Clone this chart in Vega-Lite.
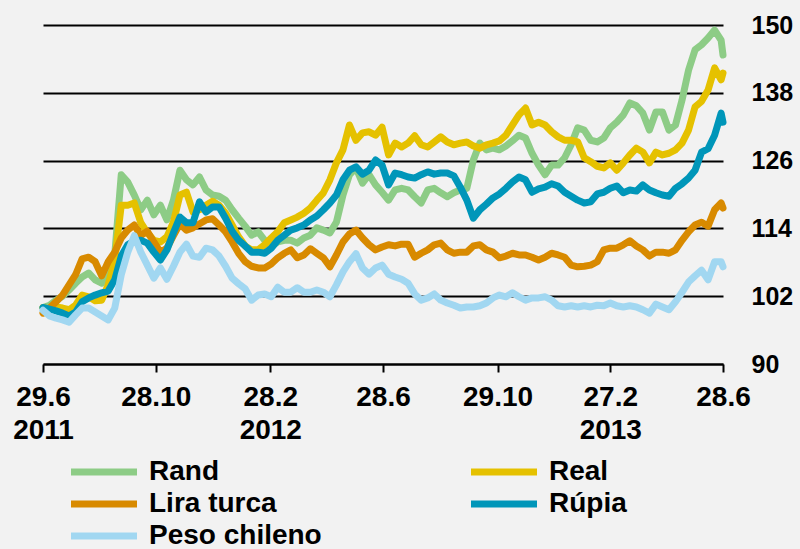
{
  "$schema": "https://vega.github.io/schema/vega-lite/v6.json",
  "autosize": {"type": "none"},
  "width": 680,
  "height": 339,
  "padding": {"left": 43, "top": 25, "right": 77, "bottom": 185},
  "background": "#f2f2f2",
  "config": {"view": {"stroke": null}, "legend": {"padding": 0}},
  "data": {"values": [
    {"d":"2011-06-29","Rand":100.0,"Real":100.0,"Lira turca":99.0,"Rúpia":100.0,"Peso chileno":99.5},
    {"d":"2011-07-06","Rand":100.4,"Real":99.7,"Lira turca":99.9,"Rúpia":99.7,"Peso chileno":98.5},
    {"d":"2011-07-13","Rand":101.3,"Real":100.1,"Lira turca":101.0,"Rúpia":99.4,"Peso chileno":98.1},
    {"d":"2011-07-20","Rand":102.0,"Real":99.9,"Lira turca":102.2,"Rúpia":99.0,"Peso chileno":97.8},
    {"d":"2011-07-27","Rand":103.1,"Real":99.6,"Lira turca":104.0,"Rúpia":98.5,"Peso chileno":97.4},
    {"d":"2011-08-03","Rand":104.3,"Real":100.4,"Lira turca":105.8,"Rúpia":99.2,"Peso chileno":98.7},
    {"d":"2011-08-10","Rand":105.4,"Real":102.2,"Lira turca":108.6,"Rúpia":101.0,"Peso chileno":99.9},
    {"d":"2011-08-17","Rand":106.1,"Real":101.9,"Lira turca":108.9,"Rúpia":101.7,"Peso chileno":99.9},
    {"d":"2011-08-24","Rand":104.9,"Real":101.2,"Lira turca":108.1,"Rúpia":102.2,"Peso chileno":99.2},
    {"d":"2011-08-31","Rand":104.3,"Real":101.3,"Lira turca":105.6,"Rúpia":102.6,"Peso chileno":98.5},
    {"d":"2011-09-07","Rand":106.3,"Real":104.0,"Lira turca":108.1,"Rúpia":102.9,"Peso chileno":97.8},
    {"d":"2011-09-14","Rand":109.3,"Real":108.4,"Lira turca":109.8,"Rúpia":104.9,"Peso chileno":99.9},
    {"d":"2011-09-21","Rand":123.5,"Real":118.1,"Lira turca":112.3,"Rúpia":109.1,"Peso chileno":105.8},
    {"d":"2011-09-28","Rand":122.2,"Real":118.1,"Lira turca":113.7,"Rúpia":111.1,"Peso chileno":109.8},
    {"d":"2011-10-05","Rand":119.9,"Real":118.5,"Lira turca":114.6,"Rúpia":111.8,"Peso chileno":112.7},
    {"d":"2011-10-12","Rand":117.3,"Real":115.0,"Lira turca":112.7,"Rúpia":111.9,"Peso chileno":109.8},
    {"d":"2011-10-19","Rand":119.0,"Real":113.2,"Lira turca":113.5,"Rúpia":111.4,"Peso chileno":107.5},
    {"d":"2011-10-26","Rand":116.4,"Real":111.9,"Lira turca":111.6,"Rúpia":109.8,"Peso chileno":105.2},
    {"d":"2011-11-02","Rand":118.1,"Real":111.6,"Lira turca":109.8,"Rúpia":108.4,"Peso chileno":107.0},
    {"d":"2011-11-09","Rand":115.5,"Real":112.5,"Lira turca":110.5,"Rúpia":110.2,"Peso chileno":105.0},
    {"d":"2011-11-16","Rand":119.0,"Real":115.1,"Lira turca":112.7,"Rúpia":113.2,"Peso chileno":107.3},
    {"d":"2011-11-23","Rand":124.3,"Real":119.9,"Lira turca":114.8,"Rúpia":116.0,"Peso chileno":109.8},
    {"d":"2011-11-30","Rand":122.6,"Real":120.4,"Lira turca":113.7,"Rúpia":115.0,"Peso chileno":111.2},
    {"d":"2011-12-07","Rand":121.7,"Real":116.9,"Lira turca":114.1,"Rúpia":115.0,"Peso chileno":109.1},
    {"d":"2011-12-14","Rand":123.1,"Real":117.3,"Lira turca":114.8,"Rúpia":118.7,"Peso chileno":108.9},
    {"d":"2011-12-21","Rand":120.8,"Real":118.1,"Lira turca":115.5,"Rúpia":116.9,"Peso chileno":110.5},
    {"d":"2011-12-28","Rand":119.9,"Real":118.8,"Lira turca":115.7,"Rúpia":117.8,"Peso chileno":110.2},
    {"d":"2012-01-04","Rand":119.7,"Real":118.1,"Lira turca":114.6,"Rúpia":117.8,"Peso chileno":109.1},
    {"d":"2012-01-11","Rand":119.0,"Real":116.7,"Lira turca":113.4,"Rúpia":115.8,"Peso chileno":107.3},
    {"d":"2012-01-18","Rand":117.3,"Real":114.6,"Lira turca":111.6,"Rúpia":113.5,"Peso chileno":105.2},
    {"d":"2012-01-25","Rand":115.8,"Real":112.5,"Lira turca":109.6,"Rúpia":111.9,"Peso chileno":104.2},
    {"d":"2012-02-01","Rand":114.4,"Real":110.9,"Lira turca":108.1,"Rúpia":110.9,"Peso chileno":103.3},
    {"d":"2012-02-08","Rand":112.8,"Real":110.2,"Lira turca":107.3,"Rúpia":109.8,"Peso chileno":101.3},
    {"d":"2012-02-15","Rand":113.4,"Real":110.2,"Lira turca":107.0,"Rúpia":109.8,"Peso chileno":102.2},
    {"d":"2012-02-22","Rand":111.9,"Real":111.1,"Lira turca":107.0,"Rúpia":109.6,"Peso chileno":102.4},
    {"d":"2012-02-29","Rand":110.9,"Real":112.3,"Lira turca":107.7,"Rúpia":110.5,"Peso chileno":101.9},
    {"d":"2012-03-07","Rand":111.6,"Real":113.4,"Lira turca":108.8,"Rúpia":111.9,"Peso chileno":103.6},
    {"d":"2012-03-14","Rand":111.9,"Real":115.0,"Lira turca":109.6,"Rúpia":112.8,"Peso chileno":102.7},
    {"d":"2012-03-21","Rand":111.9,"Real":115.5,"Lira turca":110.2,"Rúpia":113.7,"Peso chileno":102.7},
    {"d":"2012-03-28","Rand":111.4,"Real":116.0,"Lira turca":108.8,"Rúpia":114.1,"Peso chileno":103.5},
    {"d":"2012-04-04","Rand":112.3,"Real":116.7,"Lira turca":109.3,"Rúpia":114.6,"Peso chileno":102.7},
    {"d":"2012-04-11","Rand":112.8,"Real":117.6,"Lira turca":110.4,"Rúpia":115.5,"Peso chileno":102.7},
    {"d":"2012-04-18","Rand":114.1,"Real":119.0,"Lira turca":109.6,"Rúpia":116.2,"Peso chileno":103.1},
    {"d":"2012-04-25","Rand":113.7,"Real":120.3,"Lira turca":108.8,"Rúpia":117.3,"Peso chileno":102.7},
    {"d":"2012-05-02","Rand":113.2,"Real":122.6,"Lira turca":107.2,"Rúpia":118.5,"Peso chileno":101.9},
    {"d":"2012-05-09","Rand":115.1,"Real":125.6,"Lira turca":109.3,"Rúpia":119.9,"Peso chileno":104.0},
    {"d":"2012-05-16","Rand":119.9,"Real":127.9,"Lira turca":111.6,"Rúpia":122.6,"Peso chileno":106.3},
    {"d":"2012-05-23","Rand":123.5,"Real":132.3,"Lira turca":113.0,"Rúpia":124.3,"Peso chileno":108.1},
    {"d":"2012-05-30","Rand":124.7,"Real":129.6,"Lira turca":113.7,"Rúpia":124.9,"Peso chileno":109.5},
    {"d":"2012-06-06","Rand":122.0,"Real":130.9,"Lira turca":112.3,"Rúpia":123.6,"Peso chileno":107.0},
    {"d":"2012-06-13","Rand":123.5,"Real":131.1,"Lira turca":111.1,"Rúpia":124.3,"Peso chileno":105.9},
    {"d":"2012-06-20","Rand":121.7,"Real":130.5,"Lira turca":110.2,"Rúpia":126.1,"Peso chileno":107.0},
    {"d":"2012-06-27","Rand":120.4,"Real":131.9,"Lira turca":110.7,"Rúpia":125.2,"Peso chileno":107.5},
    {"d":"2012-07-04","Rand":119.0,"Real":127.0,"Lira turca":111.1,"Rúpia":121.7,"Peso chileno":105.9},
    {"d":"2012-07-11","Rand":120.8,"Real":129.1,"Lira turca":110.9,"Rúpia":123.8,"Peso chileno":105.4},
    {"d":"2012-07-18","Rand":121.1,"Real":128.4,"Lira turca":111.2,"Rúpia":123.5,"Peso chileno":105.0},
    {"d":"2012-07-25","Rand":120.8,"Real":129.1,"Lira turca":111.2,"Rúpia":123.1,"Peso chileno":104.3},
    {"d":"2012-08-01","Rand":119.6,"Real":130.4,"Lira turca":108.9,"Rúpia":122.9,"Peso chileno":102.4},
    {"d":"2012-08-08","Rand":118.5,"Real":128.8,"Lira turca":109.6,"Rúpia":123.5,"Peso chileno":101.3},
    {"d":"2012-08-15","Rand":120.8,"Real":128.4,"Lira turca":110.2,"Rúpia":124.0,"Peso chileno":101.7},
    {"d":"2012-08-22","Rand":121.1,"Real":129.3,"Lira turca":111.1,"Rúpia":123.6,"Peso chileno":102.4},
    {"d":"2012-08-29","Rand":120.3,"Real":130.2,"Lira turca":111.4,"Rúpia":123.8,"Peso chileno":101.3},
    {"d":"2012-09-05","Rand":119.6,"Real":129.3,"Lira turca":110.2,"Rúpia":123.8,"Peso chileno":100.8},
    {"d":"2012-09-12","Rand":120.3,"Real":128.8,"Lira turca":109.6,"Rúpia":123.3,"Peso chileno":100.4},
    {"d":"2012-09-19","Rand":120.8,"Real":129.1,"Lira turca":109.8,"Rúpia":121.3,"Peso chileno":99.9},
    {"d":"2012-09-26","Rand":121.1,"Real":129.3,"Lira turca":109.8,"Rúpia":119.0,"Peso chileno":100.1},
    {"d":"2012-10-03","Rand":126.1,"Real":128.6,"Lira turca":110.9,"Rúpia":115.8,"Peso chileno":100.1},
    {"d":"2012-10-10","Rand":129.1,"Real":128.2,"Lira turca":111.1,"Rúpia":117.3,"Peso chileno":100.3},
    {"d":"2012-10-17","Rand":127.9,"Real":128.8,"Lira turca":110.2,"Rúpia":118.3,"Peso chileno":100.8},
    {"d":"2012-10-24","Rand":128.2,"Real":129.1,"Lira turca":109.8,"Rúpia":119.4,"Peso chileno":101.7},
    {"d":"2012-10-31","Rand":127.9,"Real":129.5,"Lira turca":108.8,"Rúpia":120.1,"Peso chileno":102.2},
    {"d":"2012-11-07","Rand":128.6,"Real":130.5,"Lira turca":109.1,"Rúpia":121.1,"Peso chileno":101.9},
    {"d":"2012-11-14","Rand":129.5,"Real":132.3,"Lira turca":109.6,"Rúpia":122.2,"Peso chileno":102.6},
    {"d":"2012-11-21","Rand":130.5,"Real":134.1,"Lira turca":109.3,"Rúpia":123.1,"Peso chileno":101.9},
    {"d":"2012-11-28","Rand":130.0,"Real":135.3,"Lira turca":109.3,"Rúpia":122.6,"Peso chileno":101.3},
    {"d":"2012-12-05","Rand":127.3,"Real":132.3,"Lira turca":108.9,"Rúpia":120.4,"Peso chileno":101.7},
    {"d":"2012-12-12","Rand":125.2,"Real":132.8,"Lira turca":108.4,"Rúpia":121.0,"Peso chileno":101.7},
    {"d":"2012-12-19","Rand":123.5,"Real":132.3,"Lira turca":108.9,"Rúpia":121.3,"Peso chileno":101.9},
    {"d":"2012-12-26","Rand":125.2,"Real":131.1,"Lira turca":109.6,"Rúpia":121.9,"Peso chileno":101.3},
    {"d":"2013-01-02","Rand":125.2,"Real":130.2,"Lira turca":109.3,"Rúpia":121.5,"Peso chileno":100.3},
    {"d":"2013-01-09","Rand":126.5,"Real":129.6,"Lira turca":108.9,"Rúpia":120.4,"Peso chileno":100.1},
    {"d":"2013-01-16","Rand":128.8,"Real":129.6,"Lira turca":107.5,"Rúpia":119.7,"Peso chileno":100.3},
    {"d":"2013-01-23","Rand":131.8,"Real":129.3,"Lira turca":107.2,"Rúpia":119.0,"Peso chileno":100.1},
    {"d":"2013-01-30","Rand":131.4,"Real":126.5,"Lira turca":107.3,"Rúpia":118.5,"Peso chileno":100.3},
    {"d":"2013-02-06","Rand":129.6,"Real":125.8,"Lira turca":107.5,"Rúpia":118.7,"Peso chileno":100.1},
    {"d":"2013-02-13","Rand":129.3,"Real":125.0,"Lira turca":108.1,"Rúpia":120.1,"Peso chileno":100.4},
    {"d":"2013-02-20","Rand":130.0,"Real":124.7,"Lira turca":110.2,"Rúpia":120.4,"Peso chileno":100.3},
    {"d":"2013-02-27","Rand":131.8,"Real":125.6,"Lira turca":110.5,"Rúpia":121.1,"Peso chileno":100.8},
    {"d":"2013-03-06","Rand":132.8,"Real":124.3,"Lira turca":110.5,"Rúpia":121.5,"Peso chileno":100.3},
    {"d":"2013-03-13","Rand":134.1,"Real":125.6,"Lira turca":111.1,"Rúpia":120.3,"Peso chileno":100.1},
    {"d":"2013-03-20","Rand":136.2,"Real":127.0,"Lira turca":111.8,"Rúpia":120.8,"Peso chileno":100.3},
    {"d":"2013-03-27","Rand":135.7,"Real":128.2,"Lira turca":110.9,"Rúpia":120.6,"Peso chileno":100.1},
    {"d":"2013-04-03","Rand":134.4,"Real":127.5,"Lira turca":110.2,"Rúpia":121.7,"Peso chileno":99.6},
    {"d":"2013-04-10","Rand":131.4,"Real":125.6,"Lira turca":109.1,"Rúpia":120.8,"Peso chileno":99.0},
    {"d":"2013-04-17","Rand":134.6,"Real":127.5,"Lira turca":109.8,"Rúpia":120.3,"Peso chileno":100.6},
    {"d":"2013-04-24","Rand":134.6,"Real":127.0,"Lira turca":109.8,"Rúpia":119.9,"Peso chileno":100.1},
    {"d":"2013-05-01","Rand":131.4,"Real":127.3,"Lira turca":109.6,"Rúpia":119.7,"Peso chileno":99.6},
    {"d":"2013-05-08","Rand":132.3,"Real":127.9,"Lira turca":110.2,"Rúpia":121.1,"Peso chileno":101.0},
    {"d":"2013-05-15","Rand":136.7,"Real":129.1,"Lira turca":111.9,"Rúpia":121.9,"Peso chileno":102.7},
    {"d":"2013-05-22","Rand":142.0,"Real":131.4,"Lira turca":113.4,"Rúpia":122.9,"Peso chileno":104.5},
    {"d":"2013-05-29","Rand":145.6,"Real":135.5,"Lira turca":114.6,"Rúpia":124.3,"Peso chileno":105.6},
    {"d":"2013-06-05","Rand":146.5,"Real":136.5,"Lira turca":115.1,"Rúpia":127.5,"Peso chileno":106.6},
    {"d":"2013-06-12","Rand":147.7,"Real":138.5,"Lira turca":114.4,"Rúpia":128.1,"Peso chileno":104.9},
    {"d":"2013-06-19","Rand":149.1,"Real":142.4,"Lira turca":117.3,"Rúpia":130.5,"Peso chileno":108.1},
    {"d":"2013-06-26","Rand":147.3,"Real":140.3,"Lira turca":118.5,"Rúpia":134.4,"Peso chileno":108.1},
    {"d":"2013-06-28","Rand":144.7,"Real":141.5,"Lira turca":117.6,"Rúpia":132.8,"Peso chileno":107.2}
  ]},
  "transform": [
    {"fold": ["Rand", "Real", "Lira turca", "Rúpia", "Peso chileno"], "as": ["serie", "valor"]}
  ],
  "mark": {"type": "line", "strokeWidth": 7, "strokeJoin": "round", "strokeCap": "round"},
  "encoding": {
    "x": {
      "field": "d", "type": "temporal",
      "scale": {"type": "utc", "domain": [{"year": 2011, "month": 6, "date": 29, "utc": true}, {"year": 2013, "month": 6, "date": 28, "utc": true}]},
      "axis": {
        "title": null,
        "values": [
          {"year": 2011, "month": 6, "date": 29, "utc": true},
          {"year": 2011, "month": 10, "date": 28, "utc": true},
          {"year": 2012, "month": 2, "date": 28, "utc": true},
          {"year": 2012, "month": 6, "date": 28, "utc": true},
          {"year": 2012, "month": 10, "date": 29, "utc": true},
          {"year": 2013, "month": 2, "date": 27, "utc": true},
          {"year": 2013, "month": 6, "date": 28, "utc": true}
        ],
        "labelExpr": "(utcmonth(datum.value) == 1 || (utcyear(datum.value) == 2011 && utcmonth(datum.value) == 5)) ? [utcFormat(datum.value, '%-d.%-m'), utcFormat(datum.value, '%Y')] : utcFormat(datum.value, '%-d.%-m')",
        "grid": false,
        "domain": true, "domainColor": "#000000", "domainWidth": 2,
        "ticks": true, "tickColor": "#000000", "tickWidth": 2, "tickSize": 8,
        "labelFont": "Liberation Sans", "labelFontWeight": "bold", "labelFontSize": 28,
        "labelColor": "#000000", "labelLineHeight": 33, "labelPadding": 11,
        "labelBaseline": "top", "labelAlign": "center", "labelOverlap": false, "labelFlush": false
      }
    },
    "y": {
      "field": "valor", "type": "quantitative",
      "scale": {"domain": [90, 150], "nice": false, "zero": false},
      "axis": {
        "title": null, "orient": "right",
        "values": [90, 102, 114, 126, 138, 150],
        "grid": true, "gridColor": "#000000", "gridWidth": 2,
        "domain": false, "ticks": false,
        "labelFont": "Liberation Sans", "labelFontWeight": "bold", "labelFontSize": 25,
        "labelColor": "#000000", "labelPadding": 28, "labelAlign": "left", "labelBaseline": "middle"
      }
    },
    "color": {
      "field": "serie", "type": "nominal",
      "scale": {
        "domain": ["Rand", "Real", "Lira turca", "Rúpia", "Peso chileno"],
        "range": ["#8DCC86", "#E5C100", "#D88A00", "#0096B9", "#A1D7F1"]
      },
      "legend": {
        "title": null, "orient": "none", "legendX": 20, "legendY": 433,
        "direction": "horizontal", "columns": 2, "columnPadding": 135, "rowPadding": 4,
        "symbolType": "M-1,0H10", "symbolSize": 144, "symbolStrokeWidth": 7,
        "labelFont": "Liberation Sans", "labelFontWeight": "bold", "labelFontSize": 28,
        "labelColor": "#000000", "labelOffset": 58, "labelLimit": 400
      }
    }
  }
}
